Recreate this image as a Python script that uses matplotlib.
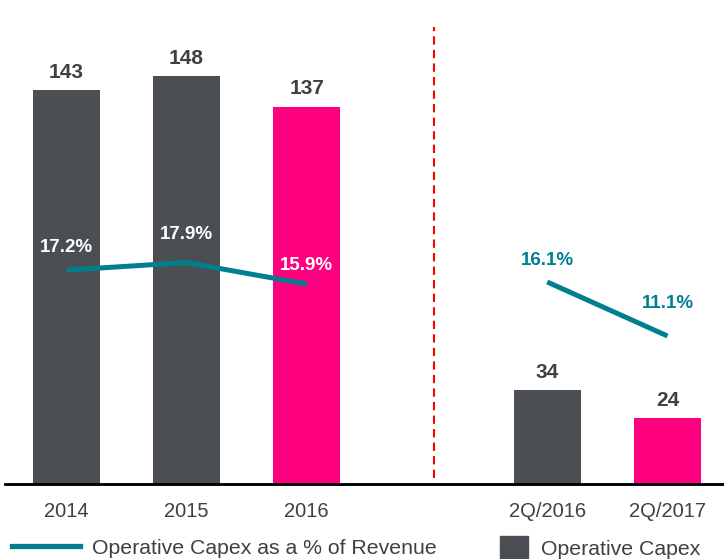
import matplotlib.pyplot as plt
from matplotlib.lines import Line2D
from matplotlib.patches import Patch

plt.rcParams['font.family'] = ['Liberation Sans', 'DejaVu Sans']

periods = ['2014', '2015', '2016', '2Q/2016', '2Q/2017']
positions = [0, 1, 2, 4, 5]
capex = [143, 148, 137, 34, 24]
capex_pct = [17.2, 17.9, 15.9, 16.1, 11.1]
bar_colors = ['#4b4f54', '#4b4f54', '#ff0080', '#4b4f54', '#ff0080']

grey = '#4b4f54'
teal = '#00808f'
text_col = '#404040'

fig = plt.figure(figsize=(7.24, 5.59), dpi=100)
ax = fig.add_axes([5 / 724, 75 / 559, 719 / 724, 464 / 559])
ax2 = ax.twinx()

ax.bar(positions, capex, width=0.56, color=bar_colors)
for x, v in zip(positions, capex):
    ax.text(x, v + 3, str(v), ha='center', va='bottom', fontsize=15,
            fontweight='bold', color=text_col)

# percentage line, drawn as two segments (annual / quarterly)
ax2.plot(positions[:3], capex_pct[:3], color=teal, lw=3.6, solid_capstyle='butt')
ax2.plot(positions[3:], capex_pct[3:], color=teal, lw=3.6, solid_capstyle='butt')

pct_offsets = [2.1, 2.6, 1.7, 2.0, 3.0]
for i, (x, v) in enumerate(zip(positions, capex_pct)):
    col = 'white' if i < 3 else teal
    ax2.text(x, v + pct_offsets[i], f'{v:.1f}%', ha='center', va='center',
             fontsize=13.5, fontweight='bold', color=col)

ax.axvline(3.06, ymin=0.013, ymax=0.985, color='#ff0000', lw=1.5, ls=(0, (4, 2.5)))

ax.set_xlim(-0.51, 5.47)
ax.set_ylim(0, 168.4)
ax2.set_ylim(-2.6, 40.35)

ax.set_xticks(positions)
ax.set_xticklabels(periods, fontsize=14.5, color=text_col)
ax.tick_params(axis='x', length=0, pad=13)
ax.set_yticks([])
ax2.set_yticks([])
for a in (ax, ax2):
    for s in ['top', 'right', 'left']:
        a.spines[s].set_visible(False)
    a.spines['bottom'].set_linewidth(1.8)
    a.spines['bottom'].set_color('#000000')

leg1 = fig.legend([Line2D([], [], color=teal, lw=3.8)],
                  ['Operative Capex as a % of Revenue'],
                  loc='center left', bbox_to_anchor=(12 / 724, 11 / 559),
                  frameon=False, fontsize=15.3, handlelength=3.2,
                  handletextpad=0.58, borderpad=0, borderaxespad=0,
                  labelcolor=text_col)
leg2 = fig.legend([Patch(color=grey)], ['Operative Capex'],
                  loc='center left', bbox_to_anchor=(500 / 724, 11 / 559),
                  frameon=False, fontsize=15.3, handlelength=1.3, handleheight=1.3,
                  handletextpad=0.62, borderpad=0, borderaxespad=0,
                  labelcolor=text_col)

fig.savefig('out.png', dpi=100)
